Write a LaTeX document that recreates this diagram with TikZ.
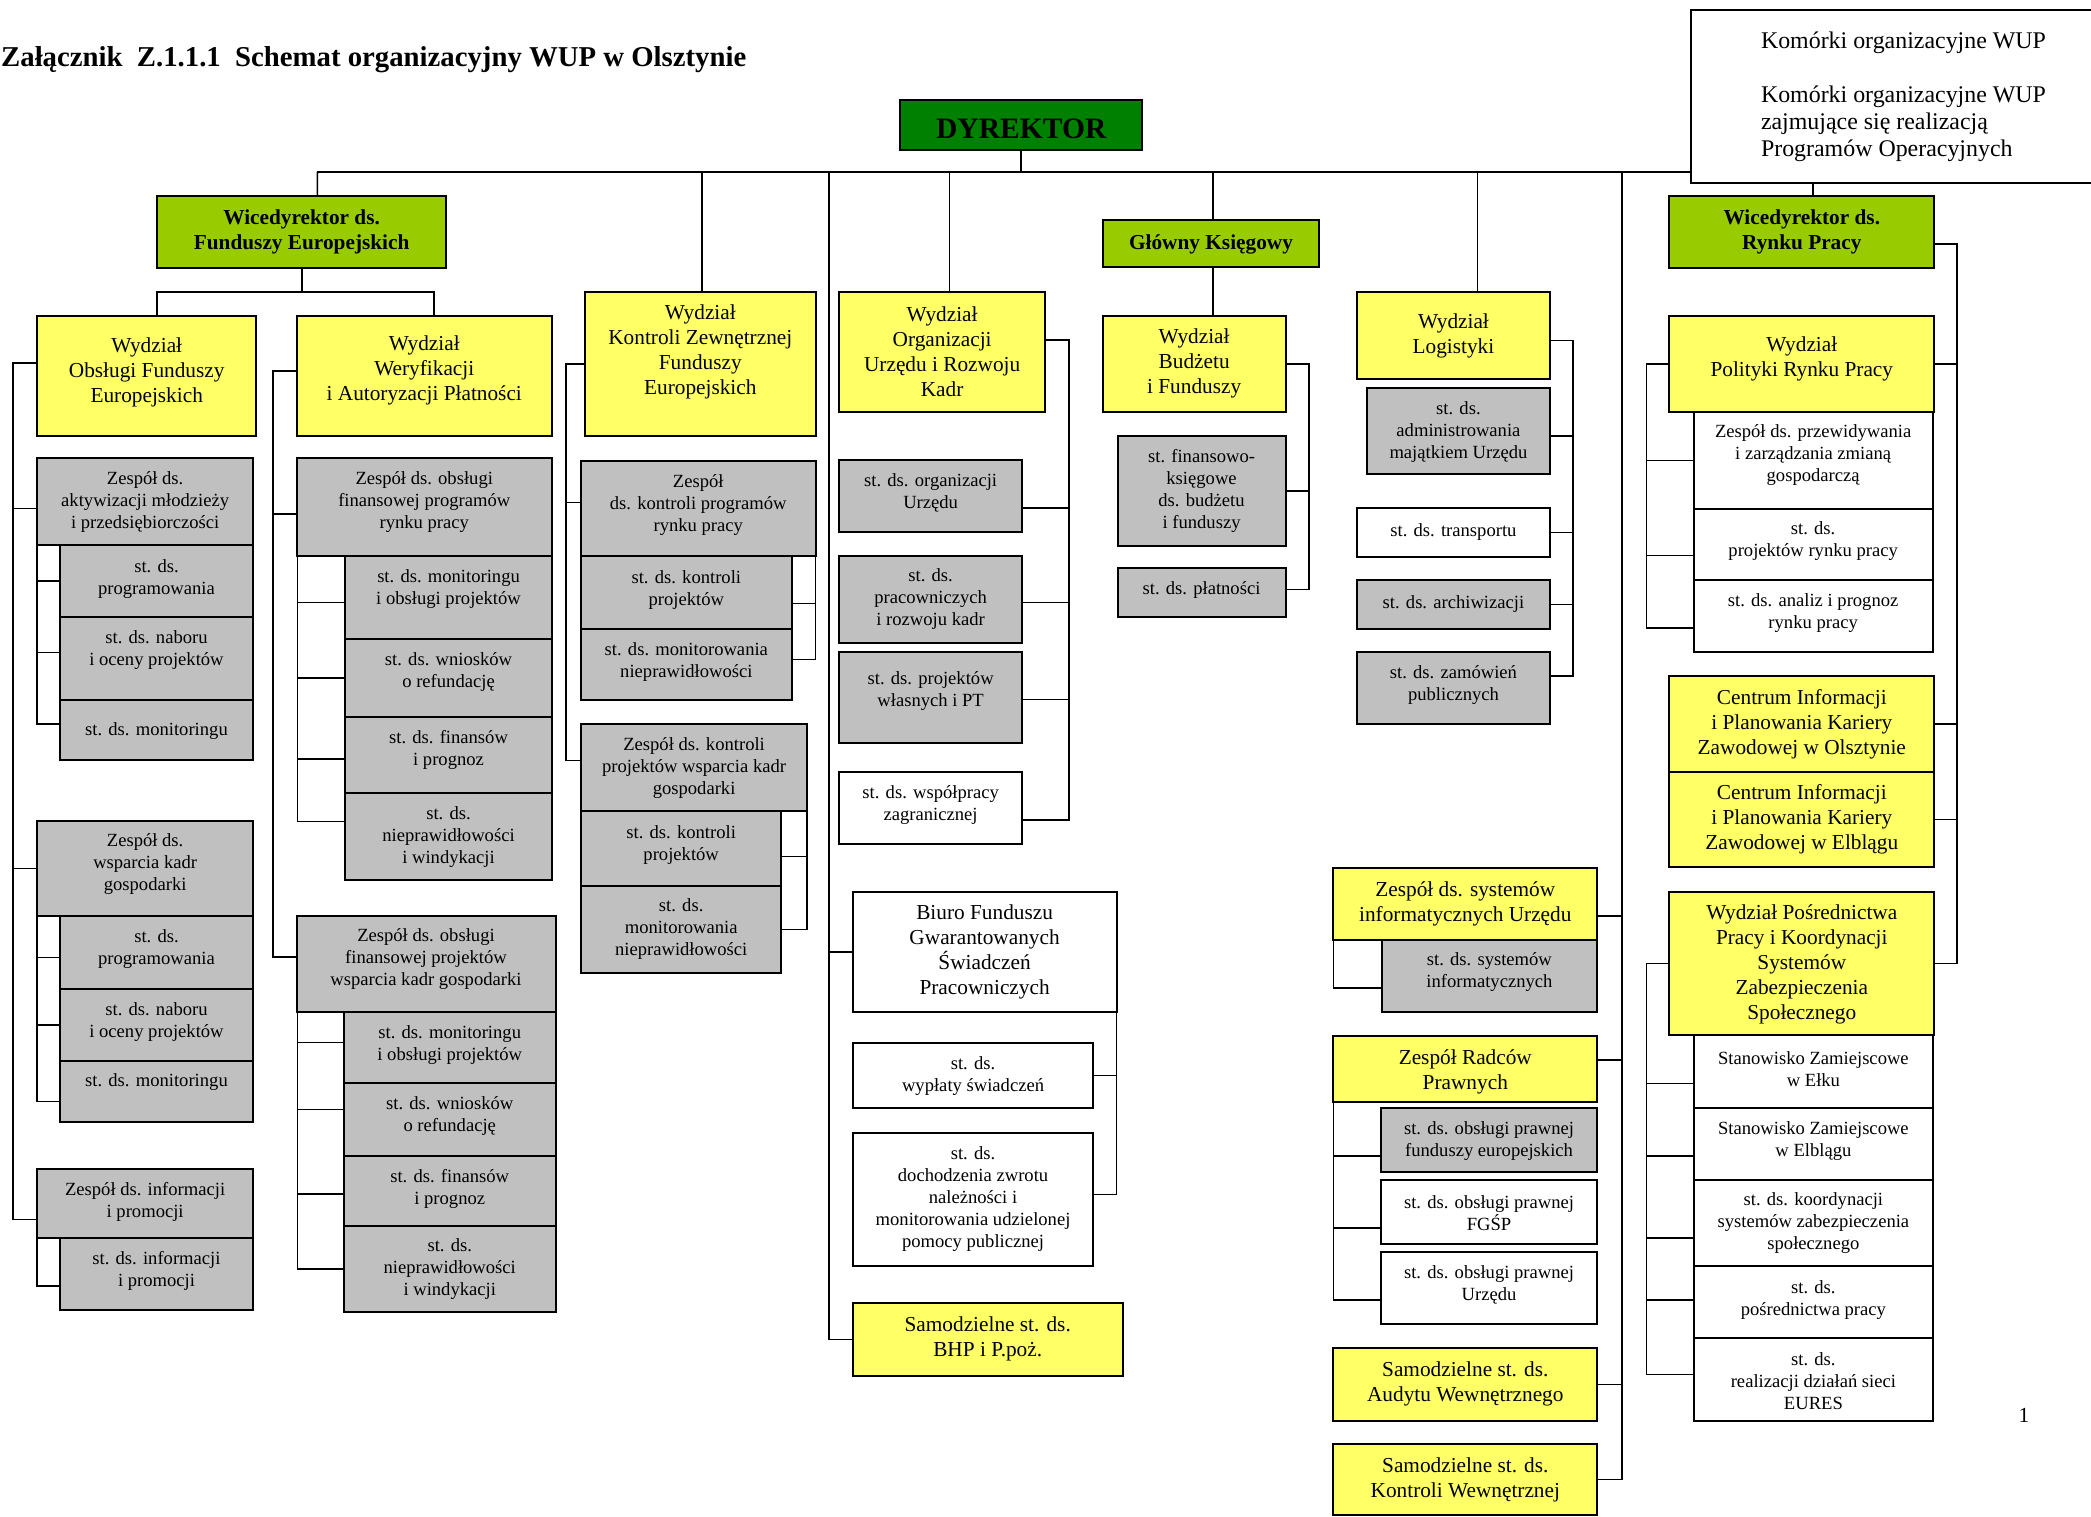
\documentclass[tikz,border=0pt]{standalone}
\usepackage{fontspec}
\setmainfont{Liberation Serif}
\usetikzlibrary{calc}
\definecolor{yel}{HTML}{FFFF66}
\definecolor{gry}{HTML}{C0C0C0}
\definecolor{lim}{HTML}{99CC00}
\definecolor{dgr}{HTML}{008000}
% #1 box style, #2 text style, #3 name, #4 x1, #5 y1, #6 x2, #7 y2, #8 text centre y, #9 text
\newcommand\BX[9]{%
  \node[#1, minimum width={(#6-#4)*1pt}, minimum height={(#7-#5)*1pt}, anchor=north west] (#3) at (#4,#5) {};
  \node[#2] (#3t) at ({(#4+#6)/2},#8) {#9};
}
\begin{document}
\begin{tikzpicture}[x=1pt,y=-1pt,
  bx/.style={draw, line width=2pt, inner sep=0pt, outer sep=0pt},
  gbox/.style={bx, fill=gry},
  ybox/.style={bx, fill=yel},
  wbox/.style={bx, fill=white},
  lbox/.style={bx, fill=lim},
  dbox/.style={bx, fill=dgr},
  ts/.style={font=\fontsize{18.6}{22}\selectfont, align=center, inner sep=0pt},
  tm/.style={font=\fontsize{21.3}{25}\selectfont, align=center, inner sep=0pt},
  tb/.style={font=\bfseries\fontsize{21.3}{24.3}\selectfont, align=center, inner sep=0pt},
  tdy/.style={font=\bfseries\fontsize{29.6}{36}\selectfont, align=center, inner sep=0pt},
  tleg/.style={font=\fontsize{23.9}{27}\selectfont, align=left, inner sep=0pt},
  ln/.style={draw, line width=1.7pt}]
\useasboundingbox (0,0) rectangle (2091,1517);

% title
\node[font=\bfseries\fontsize{28.75}{34}\selectfont, anchor=base west, inner sep=0pt] (title) at (1,67) {Załącznik~~Z.1.1.1~~Schemat organizacyjny WUP w Olsztynie};

% legend
\node[wbox, minimum width=405pt, minimum height=173pt, anchor=north west] (leg) at (1691.4,10) {};
\node[tleg, anchor=west] (leg1) at (1760.8,43) {Komórki organizacyjne WUP};
\node[tleg, anchor=north west] (leg2) at (1760.8,86) {Komórki organizacyjne WUP\\zajmujące się realizacją\\Programów Operacyjnych};

% director
\BX{dbox}{tdy}{dyr}{900.2}{100}{1142.3}{150}{129}{DYREKTOR}

% column 1-2
\BX{lbox}{tb}{wfe}{157}{196}{446.3}{268}{232}{Wicedyrektor ds.\\Funduszy Europejskich}
\BX{ybox}{tm}{wofe}{37.2}{316}{256.2}{436}{372}{Wydział\\Obsługi Funduszy\\Europejskich}
\BX{ybox}{tm}{wwer}{296.5}{316}{552}{436}{370}{Wydział\\Weryfikacji\\i Autoryzacji Płatności}
\BX{gbox}{ts}{zak}{37.2}{458}{253.1}{545}{502}{Zespół ds.\\aktywizacji młodzieży\\i przedsiębiorczości}
\BX{gbox}{ts}{prog1}{59.9}{545}{253.1}{617}{579}{st. ds.\\programowania}
\BX{gbox}{ts}{nab1}{59.9}{617}{253.1}{700}{650}{st. ds. naboru\\i oceny projektów}
\BX{gbox}{ts}{mon1}{59.9}{700}{253.1}{760}{731}{st. ds. monitoringu}
\BX{gbox}{ts}{zws}{37.2}{821}{253.1}{916}{864}{Zespół ds.\\wsparcia kadr\\gospodarki}
\BX{gbox}{ts}{prog2}{59.9}{916}{253.1}{989}{949}{st. ds.\\programowania}
\BX{gbox}{ts}{nab2}{59.9}{989}{253.1}{1061}{1022}{st. ds. naboru\\i oceny projektów}
\BX{gbox}{ts}{mon2}{59.9}{1061}{253.1}{1122}{1082}{st. ds. monitoringu}
\BX{gbox}{ts}{zin}{37.2}{1169}{253.1}{1238}{1202}{Zespół ds. informacji\\i promocji}
\BX{gbox}{ts}{sin}{59.9}{1238}{253.1}{1310}{1271}{st. ds. informacji\\i promocji}

\BX{gbox}{ts}{zfp}{296.5}{458}{552}{556}{502}{Zespół ds. obsługi\\finansowej programów\\rynku pracy}
\BX{gbox}{ts}{mo1}{345.1}{556}{552}{639}{589}{st. ds. monitoringu\\i obsługi projektów}
\BX{gbox}{ts}{wn1}{345.1}{639}{552}{717}{672}{st. ds. wniosków\\o refundację}
\BX{gbox}{ts}{fin1}{345.1}{717}{552}{793}{750}{st. ds. finansów\\i prognoz}
\BX{gbox}{ts}{niep1}{345.1}{793}{552}{880}{837}{st. ds.\\nieprawidłowości\\i windykacji}
\BX{gbox}{ts}{zfk}{296.5}{916}{555.5}{1012}{959}{Zespół ds. obsługi\\finansowej projektów\\wsparcia kadr gospodarki}
\BX{gbox}{ts}{mo2}{344}{1012}{555.5}{1083}{1045}{st. ds. monitoringu\\i obsługi projektów}
\BX{gbox}{ts}{wn2}{344}{1083}{555.5}{1156}{1116}{st. ds. wniosków\\o refundację}
\BX{gbox}{ts}{fin2}{344}{1156}{555.5}{1226}{1189}{st. ds. finansów\\i prognoz}
\BX{gbox}{ts}{niep2}{344}{1226}{555.5}{1312}{1269}{st. ds.\\nieprawidłowości\\i windykacji}

% column 3
\BX{ybox}{tm}{kz}{585.1}{292}{815.5}{436}{352}{Wydział\\Kontroli Zewnętrznej\\Funduszy\\Europejskich}
\BX{gbox}{ts}{zkp}{581}{461}{815.5}{556}{505}{Zespół\\ds. kontroli programów\\rynku pracy}
\BX{gbox}{ts}{skp1}{581}{556}{791.7}{629}{590}{st. ds. kontroli\\projektów}
\BX{gbox}{ts}{smn1}{581}{629}{791.7}{700}{662}{st. ds. monitorowania\\nieprawidłowości}
\BX{gbox}{ts}{zkk}{581}{724}{807.2}{811}{768}{Zespół ds. kontroli\\projektów wsparcia kadr\\gospodarki}
\BX{gbox}{ts}{skp2}{581}{811}{781.4}{886}{845}{st. ds. kontroli\\projektów}
\BX{gbox}{ts}{smn2}{581}{886}{781.4}{973}{929}{st. ds.\\monitorowania\\nieprawidłowości}

% column 4
\BX{ybox}{tm}{org}{839.3}{292}{1045}{412}{352}{Wydział\\Organizacji\\Urzędu i Rozwoju\\Kadr}
\BX{gbox}{ts}{sorg}{839.3}{460}{1022}{532}{493}{st. ds. organizacji\\Urzędu}
\BX{gbox}{ts}{sprac}{839.3}{556}{1022}{643}{599}{st. ds.\\pracowniczych\\i rozwoju kadr}
\BX{gbox}{ts}{sproj}{839.3}{652}{1022}{743}{691}{st. ds. projektów\\własnych i PT}
\BX{wbox}{ts}{swsp}{839.3}{772}{1022}{844}{805}{st. ds. współpracy\\zagranicznej}
\BX{wbox}{tm}{biuro}{852.7}{892}{1116.5}{1012}{952}{Biuro Funduszu\\Gwarantowanych\\Świadczeń\\Pracowniczych}
\BX{wbox}{ts}{swyp}{852.7}{1043}{1093.4}{1108}{1076}{st. ds.\\wypłaty świadczeń}
\BX{wbox}{ts}{sdoch}{852.7}{1133}{1093.4}{1266}{1199}{st. ds.\\dochodzenia zwrotu\\należności i\\monitorowania udzielonej\\pomocy publicznej}
\BX{ybox}{tm}{bhp}{852.7}{1303}{1122.7}{1376}{1339}{Samodzielne st. ds.\\BHP i P.poż.}

% column 5
\BX{lbox}{tb}{gk}{1102.7}{220}{1319.3}{267}{244}{Główny Księgowy}
\BX{ybox}{tm}{wbud}{1102.7}{316}{1285.6}{412}{363}{Wydział\\Budżetu\\i Funduszy}
\BX{gbox}{ts}{sfk}{1117.5}{436}{1285.6}{546}{491}{st. finansowo-\\księgowe\\ds. budżetu\\i funduszy}
\BX{gbox}{ts}{spl}{1117.5}{568}{1285.6}{617}{590}{st. ds. płatności}

% column 6
\BX{ybox}{tm}{wlog}{1357.2}{292}{1549.7}{379}{336}{Wydział\\Logistyki}
\BX{gbox}{ts}{sadm}{1367.2}{388}{1549.7}{474}{432}{st. ds.\\administrowania\\majątkiem Urzędu}
\BX{wbox}{ts}{strans}{1357.2}{508}{1549.7}{557}{532}{st. ds. transportu}
\BX{gbox}{ts}{sarch}{1357.2}{580}{1549.7}{629}{604}{st. ds. archiwizacji}
\BX{gbox}{ts}{szam}{1357.2}{652}{1549.7}{724}{685}{st. ds. zamówień\\publicznych}

% column 7
\BX{ybox}{tm}{zsys}{1333.4}{868}{1597.2}{940}{904}{Zespół ds. systemów\\informatycznych Urzędu}
\BX{gbox}{ts}{ssys}{1381.6}{940}{1597.2}{1012}{972}{st. ds. systemów\\informatycznych}
\BX{ybox}{tm}{zrp}{1333.4}{1036}{1597.2}{1102}{1072}{Zespół Radców\\Prawnych}
\BX{gbox}{ts}{sopf}{1380.9}{1108}{1597.2}{1172}{1141}{st. ds. obsługi prawnej\\funduszy europejskich}
\BX{wbox}{ts}{sopg}{1380.9}{1180}{1597.2}{1244}{1213}{st. ds. obsługi prawnej\\FGŚP}
\BX{wbox}{ts}{sopu}{1380.9}{1252}{1597.2}{1324}{1285}{st. ds. obsługi prawnej\\Urzędu}
\BX{ybox}{tm}{aud}{1333.4}{1348}{1597.2}{1421}{1384}{Samodzielne st. ds.\\Audytu Wewnętrznego}
\BX{ybox}{tm}{kw}{1333.4}{1444}{1597.2}{1515}{1480}{Samodzielne st. ds.\\Kontroli Wewnętrznej}

% right column
\BX{lbox}{tb}{wrp}{1669.4}{196}{1934.2}{268}{232}{Wicedyrektor ds.\\Rynku Pracy}
\BX{ybox}{tm}{wpol}{1669.4}{316}{1934.2}{412}{359}{Wydział\\Polityki Rynku Pracy}
\BX{wbox}{ts}{zprz}{1693.8}{412}{1932.5}{509}{455}{Zespół ds. przewidywania\\i zarządzania zmianą\\gospodarczą}
\BX{wbox}{ts}{sprp}{1693.8}{509}{1932.5}{580}{541}{st. ds.\\projektów rynku pracy}
\BX{wbox}{ts}{sanal}{1693.8}{580}{1932.5}{652}{613}{st. ds. analiz i prognoz\\rynku pracy}
\BX{ybox}{tm}{cio}{1669.4}{676}{1934.2}{772}{724}{Centrum Informacji\\i Planowania Kariery\\Zawodowej w Olsztynie}
\BX{ybox}{tm}{cie}{1669.4}{772}{1934.2}{867}{819}{Centrum Informacji\\i Planowania Kariery\\Zawodowej w Elblągu}
\BX{ybox}{tm}{wpp}{1669.4}{892}{1934.2}{1035}{964}{Wydział Pośrednictwa\\Pracy i Koordynacji\\Systemów\\Zabezpieczenia\\Społecznego}
\BX{wbox}{ts}{sze}{1693.8}{1035}{1933}{1108}{1069}{Stanowisko Zamiejscowe\\w Ełku}
\BX{wbox}{ts}{szel}{1693.8}{1108}{1933}{1180}{1141}{Stanowisko Zamiejscowe\\w Elblągu}
\BX{wbox}{ts}{skoord}{1693.8}{1180}{1933}{1266}{1223}{st. ds. koordynacji\\systemów zabezpieczenia\\społecznego}
\BX{wbox}{ts}{spos}{1693.8}{1266}{1933}{1338}{1300}{st. ds.\\pośrednictwa pracy}
\BX{wbox}{ts}{seur}{1693.8}{1338}{1933}{1421}{1381}{st. ds.\\realizacji działań sieci\\EURES}

\node[font=\fontsize{21.5}{25}\selectfont, inner sep=0pt] (pg) at (2024,1415) {1};

% ---------- connectors ----------
\coordinate (busL) at (317.4,172);
\coordinate (busR) at (1691.4,172);
\draw[ln] (busL) -- (busR);
\draw[ln] (dyr.south) -- (dyr.south |- busL);
\draw[ln] (busL) -- ([xshift=15.7pt]wfe.north);

% Wicedyrektor FE to its departments
\draw[ln] (wfe.south) -- ++(0,24) coordinate (j1);
\draw[ln] ([xshift=10.3pt]wofe.north) |- (j1) -| ([xshift=9.6pt]wwer.north);

% column 1
\coordinate (b1) at (13.3,0);
\draw[ln] ([yshift=13pt]wofe.west) -| ([yshift=-16pt]b1 |- zin.west) -- ([yshift=-16pt]zin.west);
\draw[ln] ([yshift=-7pt]b1 |- zak.west) -- ([yshift=-7pt]zak.west);
\draw[ln] (b1 |- zws.west) -- (zws.west);
\draw[ln] (zak.south west) |- ([yshift=6pt]mon1.west);
\draw[ln] (zak.south west |- prog1.west) -- (prog1.west);
\draw[ln] ([yshift=6pt]zak.south west |- nab1.west) -- ([yshift=6pt]nab1.west);
\draw[ln] (zws.south west) |- ([yshift=-10pt]mon2.west);
\draw[ln] ([yshift=-5pt]zws.south west |- prog2.west) -- ([yshift=-5pt]prog2.west);
\draw[ln] (zws.south west |- nab2.west) -- (nab2.west);
\draw[ln] (zin.south west) |- ([yshift=-12pt]sin.west);

% column 2
\coordinate (b2) at (272.8,0);
\draw[ln] ([yshift=5pt]wwer.west) -| ([yshift=7pt]b2 |- zfk.west) -- ([yshift=7pt]zfk.west);
\draw[ln] ([yshift=-7pt]b2 |- zfp.west) -- ([yshift=-7pt]zfp.west);
\draw[ln] ([xshift=1pt]zfp.south west) |- ([yshift=15pt]niep1.west);
\draw[ln] ([xshift=1pt,yshift=-5pt]zfp.south west |- mo1.west) -- ([yshift=-5pt]mo1.west);
\draw[ln] ([xshift=1pt]zfp.south west |- wn1.west) -- (wn1.west);
\draw[ln] ([xshift=1pt,yshift=-4pt]zfp.south west |- fin1.west) -- ([yshift=-4pt]fin1.west);
\draw[ln] ([xshift=1pt]zfk.south west) |- (niep2.west);
\draw[ln] ([xshift=1pt,yshift=5pt]zfk.south west |- mo2.west) -- ([yshift=5pt]mo2.west);
\draw[ln] ([xshift=1pt,yshift=10pt]zfk.south west |- wn2.west) -- ([yshift=10pt]wn2.west);
\draw[ln] ([xshift=1pt,yshift=-3pt]zfk.south west |- fin2.west) -- ([yshift=-3pt]fin2.west);

% column 3
\draw[ln] ([xshift=2pt]kz.north) -- ([xshift=2pt]kz.north |- busL);
\coordinate (b3) at (565.8,0);
\draw[ln] (kz.west) -| ([yshift=7pt]b3 |- zkk.west) -- ([yshift=7pt]zkk.west);
\draw[ln] ([yshift=6pt]b3 |- zkp.west) -- ([yshift=6pt]zkp.west);
\draw[ln] (zkp.south east) |- ([yshift=5pt]smn1.east);
\draw[ln] ([yshift=-11pt]zkp.south east |- skp1.east) -- ([yshift=-11pt]skp1.east);
\draw[ln] (zkk.south east) |- (smn2.east);
\draw[ln] ([yshift=-8pt]zkk.south east |- skp2.east) -- ([yshift=-8pt]skp2.east);

% column 4
\coordinate (b4) at (828.9,172);
\draw[ln] (b4) |- (bhp.west);
\draw[ln] (b4 |- biuro.west) -- (biuro.west);
\draw[ln] ([xshift=7.3pt]org.north) -- ([xshift=7.3pt]org.north |- busL);
\coordinate (b5) at (1069.3,0);
\draw[ln] ([yshift=12pt]org.east) -| ([yshift=-12pt]b5 |- swsp.east) -- ([yshift=-12pt]swsp.east);
\draw[ln] ([yshift=-12pt]b5 |- sorg.east) -- ([yshift=-12pt]sorg.east);
\draw[ln] ([yshift=-3pt]b5 |- sprac.east) -- ([yshift=-3pt]sprac.east);
\draw[ln] ([yshift=-2pt]b5 |- sproj.east) -- ([yshift=-2pt]sproj.east);
\draw[ln] (biuro.south east) |- ([yshift=5pt]sdoch.east);
\draw[ln] (biuro.south east |- swyp.east) -- (swyp.east);

% column 5
\draw[ln] ([xshift=2.2pt]gk.north) -- ([xshift=2.2pt]gk.north |- busL);
\draw[ln] ([xshift=2.2pt]gk.south) -- ([xshift=2.2pt]gk.south |- wbud.north);
\coordinate (b6) at (1309.3,0);
\draw[ln] (wbud.east) -| ([yshift=3pt]b6 |- spl.east) -- ([yshift=3pt]spl.east);
\draw[ln] (b6 |- sfk.east) -- (sfk.east);

% column 6
\draw[ln] ([xshift=24pt]wlog.north) -- ([xshift=24pt]wlog.north |- busL);
\coordinate (b7) at (1573.1,0);
\draw[ln] ([yshift=-5pt]wlog.east) -| ([yshift=12pt]b7 |- szam.east) -- ([yshift=12pt]szam.east);
\draw[ln] ([yshift=-5pt]b7 |- sadm.east) -- ([yshift=-5pt]sadm.east);
\draw[ln] (b7 |- strans.east) -- (strans.east);
\draw[ln] (b7 |- sarch.east) -- (sarch.east);

% column 7
\coordinate (b8) at (1622,172);
\draw[ln] (b8) |- (kw.east);
\draw[ln] ([yshift=-12pt]b8 |- zsys.east) -- ([yshift=-12pt]zsys.east);
\draw[ln] ([yshift=9pt]b8 |- zrp.east) -- ([yshift=9pt]zrp.east);
\draw[ln] (b8 |- aud.east) -- (aud.east);
\draw[ln] (zsys.south west) |- ([yshift=-12pt]ssys.west);
\draw[ln] (zrp.south west) |- ([yshift=-12pt]sopu.west);
\draw[ln] ([yshift=-16pt]zrp.south west |- sopf.west) -- ([yshift=-16pt]sopf.west);
\draw[ln] ([yshift=-16pt]zrp.south west |- sopg.west) -- ([yshift=-16pt]sopg.west);

% right column
\draw[ln] ([xshift=11.5pt]wrp.north) -- ([xshift=11.5pt]wrp.north |- leg.south);
\coordinate (b9) at (1957.2,0);
\draw[ln] ([yshift=-12pt]wrp.east) -| (b9 |- wpp.east) -- (wpp.east);
\draw[ln] (b9 |- wpol.east) -- (wpol.east);
\draw[ln] (b9 |- cio.east) -- (cio.east);
\draw[ln] (b9 |- cie.east) -- (cie.east);
\coordinate (b10) at (1646.4,0);
\draw[ln] (wpol.west) -| ([yshift=-12pt]b10 |- sanal.west) -- ([yshift=-12pt]sanal.west);
\draw[ln] (b10 |- zprz.west) -- (zprz.west);
\draw[ln] ([yshift=-11pt]b10 |- sprp.west) -- ([yshift=-11pt]sprp.west);
\draw[ln] (wpp.west) -| ([yshift=5pt]b10 |- seur.west) -- ([yshift=5pt]seur.west);
\draw[ln] ([yshift=-12pt]b10 |- sze.west) -- ([yshift=-12pt]sze.west);
\draw[ln] ([yshift=-12pt]b10 |- szel.west) -- ([yshift=-12pt]szel.west);
\draw[ln] ([yshift=-15pt]b10 |- skoord.west) -- ([yshift=-15pt]skoord.west);
\draw[ln] ([yshift=2pt]b10 |- spos.west) -- ([yshift=2pt]spos.west);
\end{tikzpicture}
\end{document}
